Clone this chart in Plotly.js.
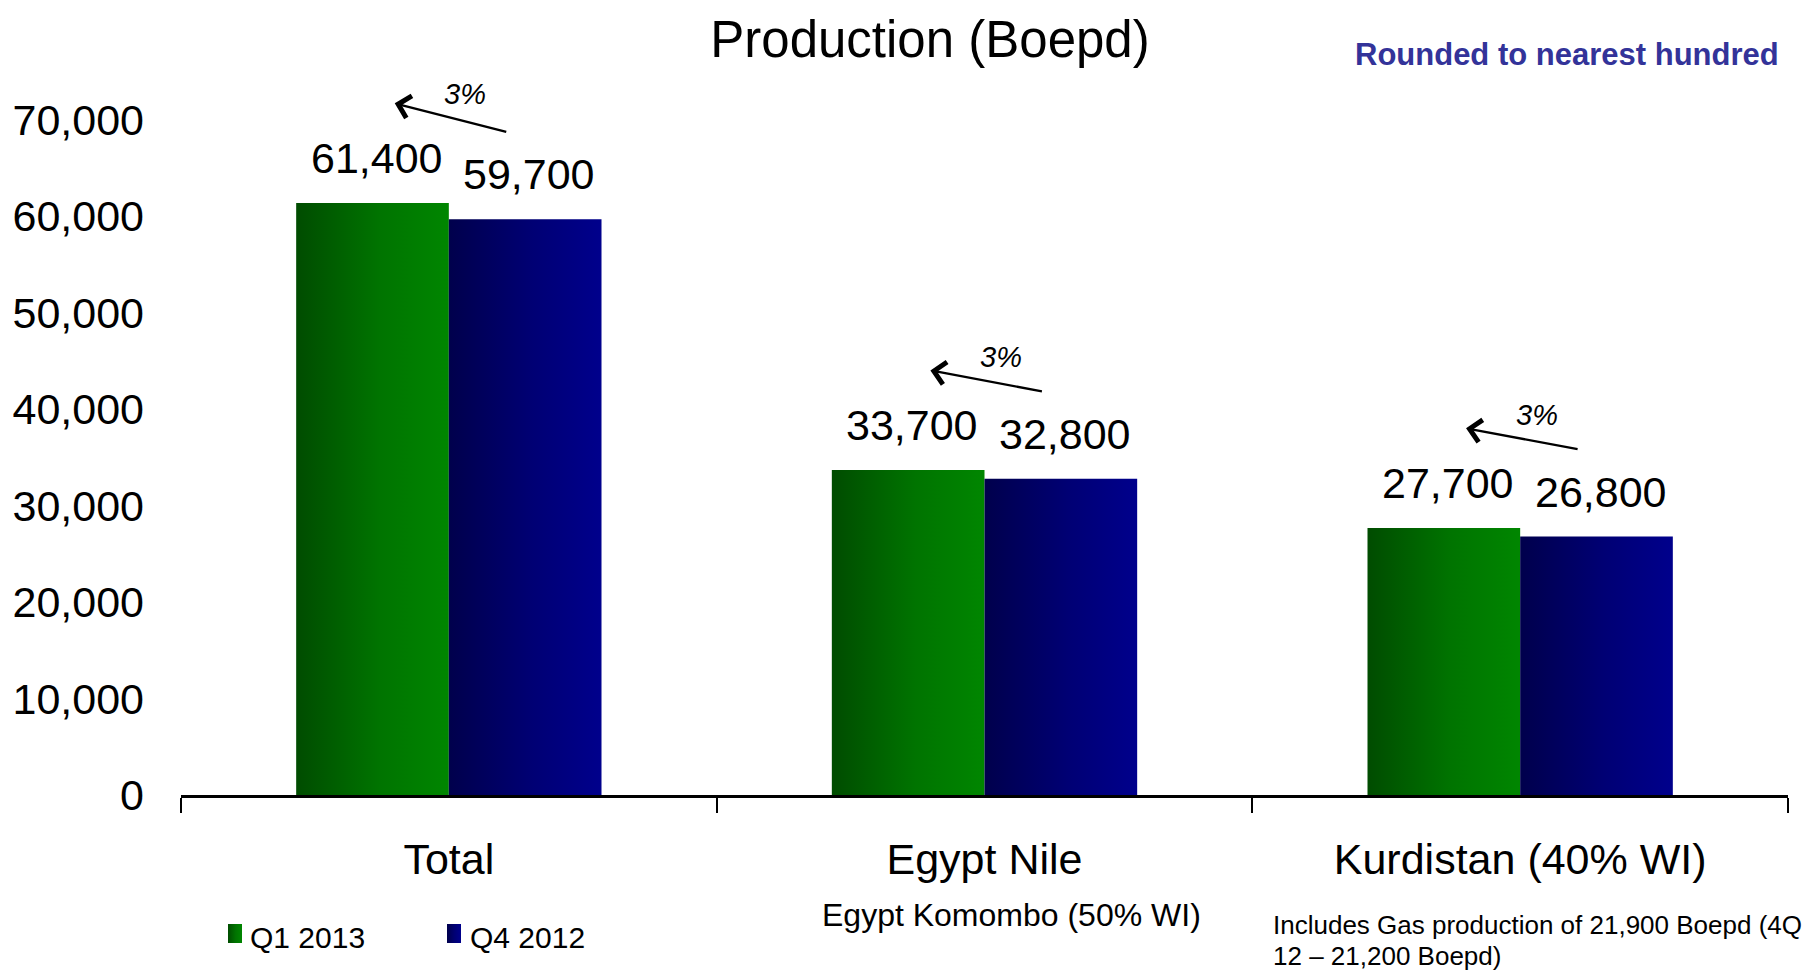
<!DOCTYPE html>
<html>
<head>
<meta charset="utf-8">
<script src="https://cdn.plot.ly/plotly-3.0.1.min.js"></script>
<style>
  html, body { margin: 0; padding: 0; background: #fff; }
  #chart { width: 1812px; height: 970px; }
</style>
</head>
<body>
<div id="chart"></div>
<script>
// Production by asset, boe per day
const categories = ['Total', 'Egypt Nile', 'Kurdistan (40% WI)'];
const seriesNames = ['Q1 2013', 'Q4 2012'];
const q1_2013 = [61400, 33700, 27700];
const q4_2012 = [59700, 32800, 26800];
const yTickStep = 10000;
const yMax = 70000;
const chartTitle = 'Production (Boepd)';
const roundingNote = 'Rounded to nearest hundred';
const egyptNote = 'Egypt Komombo (50% WI)';
const kurdistanNote = ['Includes Gas production of 21,900 Boepd (4Q', '12 \u2013 21,200 Boepd)'];

const W = 1812, H = 970;
const M = { l: 181, r: 24, t: 120, b: 175 };
const FONT = '"Liberation Sans", Arial, sans-serif';
const GREEN = '#007a00';
const BLUE = '#00007a';
const BARGAP = 0.43;
const BIG = 43;

const pxX = x => (x - M.l) / (W - M.l - M.r);
const pxY = y => (H - M.b - y) / (H - M.t - M.b);
const pxPerUnit = (H - M.t - M.b) / yMax;
const fmt = v => v.toLocaleString('en-US');

const traces = [
  { type: 'bar', name: seriesNames[0], x: categories, y: q1_2013,
    marker: { color: GREEN, line: { width: 0 } }, hoverinfo: 'skip' },
  { type: 'bar', name: seriesNames[1], x: categories, y: q4_2012,
    marker: { color: BLUE, line: { width: 0 } }, hoverinfo: 'skip' }
];

// half of one bar's share of a category slot
const barOffset = (1 - BARGAP) / 4;
const annotations = [];

categories.forEach((c, i) => {
  // value labels above each bar
  [[q1_2013[i], -barOffset], [q4_2012[i], barOffset]].forEach(([v, dx]) => {
    annotations.push({
      x: i + dx + 0.008, y: v, xref: 'x', yref: 'y',
      text: fmt(v), showarrow: false, yanchor: 'middle', yshift: 45,
      font: { family: FONT, size: BIG, color: '#000' }
    });
  });
  // growth arrow from the previous quarter to the current one
  const headY = q1_2013[i] + 10330;
  const tailY = q4_2012[i] + 9030;
  const headX = i - 0.101, tailX = i + 0.110;
  annotations.push({
    x: headX, y: headY, ax: tailX, ay: tailY,
    xref: 'x', yref: 'y', axref: 'x', ayref: 'y',
    text: '', showarrow: true, arrowhead: 4, arrowsize: 1.9, arrowwidth: 2.3,
    arrowcolor: '#000', standoff: 0, startstandoff: 0
  });
  // percentage change, anchored at the tail height so it stays inside the axis range
  const growth = Math.round((q1_2013[i] - q4_2012[i]) / q4_2012[i] * 100);
  annotations.push({
    x: (headX + tailX) / 2, y: tailY, xref: 'x', yref: 'y',
    text: '<i>' + growth + '%</i>', showarrow: false,
    xshift: 14, yshift: 24 + (headY - tailY) / 2 * pxPerUnit,
    font: { family: FONT, size: 29, color: '#000' }
  });
});

annotations.push(
  { xref: 'paper', yref: 'paper', x: pxX(1781), y: pxY(54), xanchor: 'right', yanchor: 'middle',
    text: '<b>' + roundingNote + '</b>', showarrow: false,
    font: { family: FONT, size: 31, color: '#333399' } },
  { xref: 'paper', yref: 'paper', x: pxX(1011), y: pxY(915), xanchor: 'center', yanchor: 'middle',
    text: egyptNote, showarrow: false,
    font: { family: FONT, size: 32, color: '#000' } },
  { xref: 'paper', yref: 'paper', x: pxX(1271), y: pxY(925), xanchor: 'left', yanchor: 'middle',
    text: kurdistanNote[0], showarrow: false,
    font: { family: FONT, size: 26, color: '#000' } },
  { xref: 'paper', yref: 'paper', x: pxX(1271), y: pxY(956), xanchor: 'left', yanchor: 'middle',
    text: kurdistanNote[1], showarrow: false,
    font: { family: FONT, size: 26, color: '#000' } }
);

// legend: swatch + label for each series
const legendItems = [
  { name: seriesNames[0], color: GREEN, x0: 228, textX: 248 },
  { name: seriesNames[1], color: BLUE, x0: 447, textX: 468 }
];
const shapes = legendItems.map(it => ({
  type: 'rect', xref: 'paper', yref: 'paper', layer: 'above',
  x0: pxX(it.x0), x1: pxX(it.x0 + 14), y0: pxY(943), y1: pxY(924),
  fillcolor: it.color, line: { width: 0 }
}));
legendItems.forEach(it => annotations.push({
  xref: 'paper', yref: 'paper', x: pxX(it.textX), y: pxY(937), xanchor: 'left', yanchor: 'middle',
  text: it.name, showarrow: false, font: { family: FONT, size: 30, color: '#000' }
}));

const layout = {
  width: W, height: H,
  margin: M,
  paper_bgcolor: '#fff', plot_bgcolor: '#fff',
  showlegend: false,
  barmode: 'group', bargap: BARGAP, bargroupgap: 0,
  title: {
    text: chartTitle, xref: 'container', yref: 'container',
    x: 930 / W, xanchor: 'center', y: 1 - 39 / H, yanchor: 'middle',
    font: { family: FONT, size: 51, color: '#000' }
  },
  xaxis: {
    type: 'category', range: [-0.5, categories.length - 0.5],
    showline: true, linecolor: '#000', linewidth: 3,
    ticks: 'outside', tickson: 'boundaries', ticklen: 15, tickwidth: 2, tickcolor: '#000',
    ticklabelstandoff: 24,
    tickfont: { family: FONT, size: BIG, color: '#000' },
    showgrid: false, zeroline: false, fixedrange: true
  },
  yaxis: {
    range: [0, yMax], dtick: yTickStep, tick0: 0, tickformat: ',d',
    showline: false, ticks: '', showgrid: false, zeroline: false,
    ticklabelstandoff: 36,
    tickfont: { family: FONT, size: BIG, color: '#000' },
    fixedrange: true
  },
  annotations: annotations,
  shapes: shapes
};

// horizontal shading on bars and swatches
function addGradients(gd) {
  const svg = gd.querySelector('svg.main-svg');
  const NS = 'http://www.w3.org/2000/svg';
  let defs = svg.querySelector('defs');
  if (!defs) { defs = document.createElementNS(NS, 'defs'); svg.insertBefore(defs, svg.firstChild); }
  const grads = {
    gradGreen: [['0%', '#004c00'], ['55%', '#007400'], ['100%', '#008600']],
    gradBlue: [['0%', '#00004c'], ['55%', '#000074'], ['100%', '#00008c']]
  };
  Object.keys(grads).forEach(id => {
    const lg = document.createElementNS(NS, 'linearGradient');
    lg.setAttribute('id', id);
    lg.setAttribute('x1', '0'); lg.setAttribute('y1', '0');
    lg.setAttribute('x2', '1'); lg.setAttribute('y2', '0');
    grads[id].forEach(([off, col]) => {
      const s = document.createElementNS(NS, 'stop');
      s.setAttribute('offset', off); s.setAttribute('stop-color', col);
      lg.appendChild(s);
    });
    defs.appendChild(lg);
  });
  const ids = ['gradGreen', 'gradBlue'];
  gd.querySelectorAll('.barlayer .trace').forEach((tr, k) => {
    tr.querySelectorAll('.point path').forEach(p => { p.style.fill = 'url(#' + ids[k] + ')'; });
  });
  gd.querySelectorAll('.shapelayer path').forEach((p, k) => {
    if (k < ids.length) p.style.fill = 'url(#' + ids[k] + ')';
  });
}

Plotly.newPlot('chart', traces, layout, { staticPlot: true, displayModeBar: false })
  .then(addGradients);
</script>
</body>
</html>
